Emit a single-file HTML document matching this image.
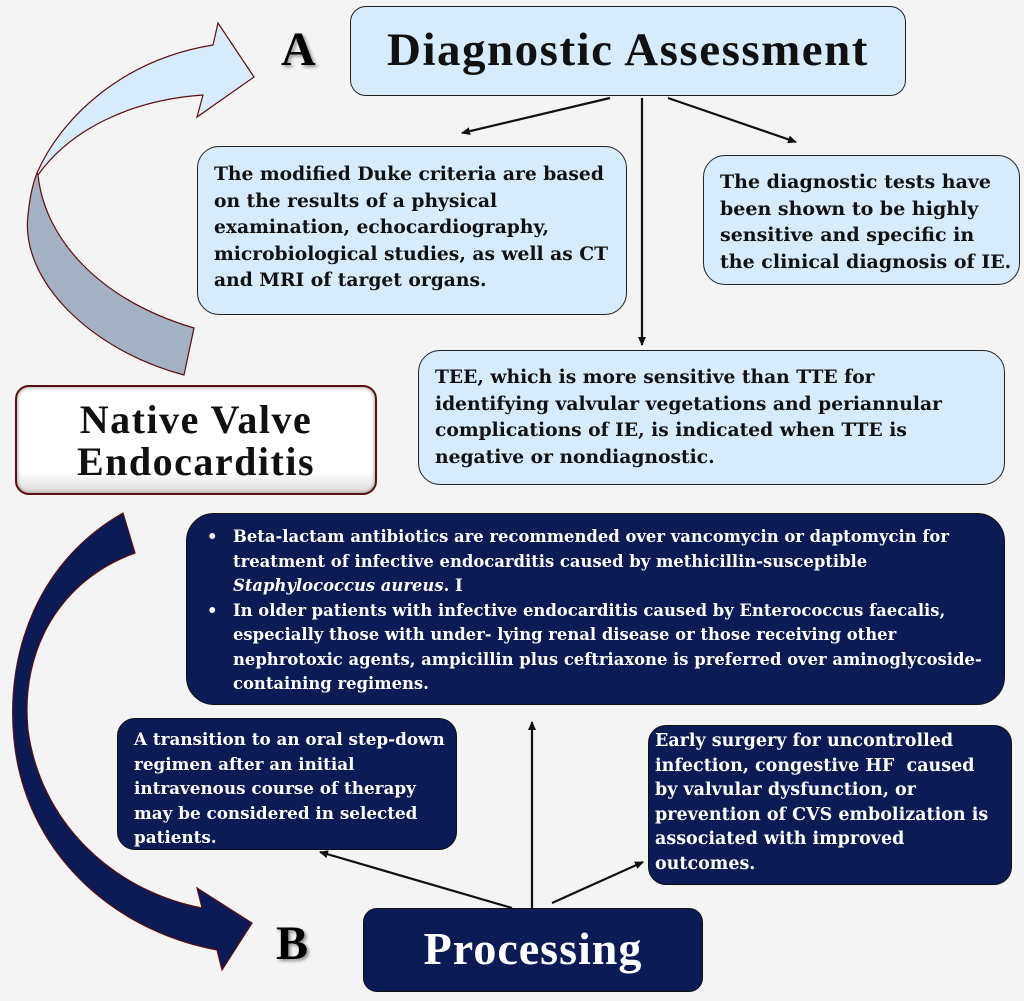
<!DOCTYPE html>
<html><head><style>
body{margin:0;width:1024px;height:1001px;background:#f4f4f4;position:relative;overflow:hidden;font-family:"Liberation Serif",serif;font-weight:bold}
.b{position:absolute;box-sizing:border-box;border-radius:22px;white-space:nowrap}
.t{font-family:"DejaVu Serif",serif}
.lb{background:#d8ebfb;border:1.5px solid #222;color:#111;font-size:18.7px;line-height:26.5px;padding:14px 16px}
.db{background:#0c1a56;border:1.5px solid #111;color:#fff;font-size:16.4px;line-height:24.5px}
ul{margin:0;padding:0 0 0 46px}
li{list-style:none;position:relative}
li:before{content:"•";position:absolute;left:-26px}
.big{position:absolute;font-size:48px;text-shadow:2px 2px 3px #888}
</style></head><body>
<svg width="1024" height="1001" style="position:absolute;left:0;top:0">
<defs><marker id="ah" markerWidth="10" markerHeight="10" refX="8" refY="5" orient="auto" markerUnits="userSpaceOnUse"><path d="M0,1 L9,5 L0,9 z" fill="#111"/></marker></defs>
<path d="M37,173 C60,120 120,60 213,45 L218,23 L254,77 L197,117 L203,95 C130,100 70,130 38,175 Z" fill="#d8ebfb" stroke="#5a1010" stroke-width="1.2"/>
<path d="M38,175 C45,240 100,300 194,328 L184,375 C90,350 20,280 28,215 C30,195 33,183 37,173 Z" fill="#a3b1c2" stroke="#5a1010" stroke-width="1.2"/>
<path d="M123,513 C40,560 5,650 14,740 C25,850 110,930 217,950 L222,970 L252,923 L197,888 L202,908 C110,890 40,820 28,730 C20,650 60,580 135,553 Z" fill="#0c1a56" stroke="#5a1010" stroke-width="1.2"/>
<g stroke="#111" stroke-width="2.2" fill="none" marker-end="url(#ah)">
<line x1="610" y1="98" x2="462" y2="133"/>
<line x1="642" y1="98" x2="642" y2="345"/>
<line x1="668" y1="98" x2="796" y2="142"/>
<line x1="512" y1="908" x2="320" y2="852"/>
<line x1="532" y1="908" x2="532" y2="722"/>
<line x1="552" y1="903" x2="643" y2="862"/>
</g>
</svg>
<div class="big" style="left:281px;top:22px">A</div>
<div class="big" style="left:276px;top:916px">B</div>
<div class="b lb" style="left:350px;top:6px;width:556px;height:90px;font-size:47px;letter-spacing:1.5px;line-height:86px;text-align:center;padding:0;border-radius:16px">Diagnostic Assessment</div>
<div class="b lb t" style="left:197px;top:146px;width:430px;height:169px">The modified Duke criteria are based<br>on the results of a physical<br>examination, echocardiography,<br>microbiological studies, as well as CT<br>and MRI of target organs.</div>
<div class="b lb t" style="left:703px;top:155px;width:317px;height:130px;padding:13px 16px;font-size:19px">The diagnostic tests have<br>been shown to be highly<br>sensitive and specific in<br>the clinical diagnosis of IE.</div>
<div class="b lb t" style="left:418px;top:350px;width:587px;height:135px;padding:13px 16px">TEE, which is more sensitive than TTE for<br>identifying valvular vegetations and periannular<br>complications of IE, is indicated when TTE is<br>negative or nondiagnostic.</div>
<div class="b" style="left:15px;top:385px;width:362px;height:110px;background:linear-gradient(#fff,#fff 80%,#ddd);border:2px solid #5a1010;box-shadow:inset 0 0 4px #888;font-size:40px;letter-spacing:1.5px;line-height:42px;text-align:center;padding-top:12px;color:#111;border-radius:14px">Native Valve<br>Endocarditis</div>
<div class="b db t" style="left:186px;top:513px;width:819px;height:192px;padding:11px 10px 0 0;border-radius:28px"><ul><li>Beta-lactam antibiotics are recommended over vancomycin or daptomycin for<br>treatment of infective endocarditis caused by methicillin-susceptible<br><i>Staphylococcus aureus</i>. I</li><li>In older patients with infective endocarditis caused by Enterococcus faecalis,<br>especially those with under- lying renal disease or those receiving other<br>nephrotoxic agents, ampicillin plus ceftriaxone is preferred over aminoglycoside-<br>containing regimens.</li></ul></div>
<div class="b db t" style="left:117px;top:718px;width:340px;height:132px;padding:8px 12px 0 16px;border-radius:18px;font-size:16.8px">A transition to an oral step-down<br>regimen after an initial<br>intravenous course of therapy<br>may be considered in selected<br>patients.</div>
<div class="b db t" style="left:648px;top:725px;width:364px;height:160px;padding:3px 10px 0 6px;border-radius:18px;font-size:17.5px">Early surgery for uncontrolled<br>infection, congestive HF &nbsp;caused<br>by valvular dysfunction, or<br>prevention of CVS embolization is<br>associated with improved<br>outcomes.</div>
<div class="b db" style="left:363px;top:908px;width:340px;height:84px;font-size:46px;letter-spacing:1px;line-height:80px;text-align:center;border-radius:14px">Processing</div>
</body></html>
